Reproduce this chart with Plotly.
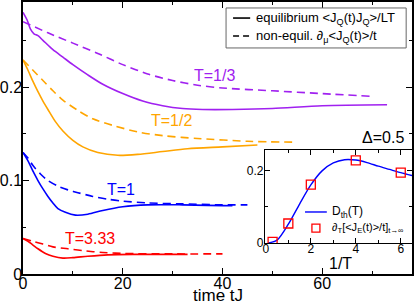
import plotly.graph_objects as go

# ---------------- data ----------------
t_p_eq = [0, 0.8, 1.5, 2.2, 3, 4, 6, 8, 10, 13, 16, 20, 24, 28, 32, 36, 42, 50, 60, 73]
y_p_eq = [0.280, 0.272, 0.262, 0.257, 0.255, 0.250, 0.240, 0.232, 0.224, 0.213, 0.203,
          0.193, 0.185, 0.180, 0.177, 0.176, 0.176, 0.177, 0.180, 0.181]
t_p_ne = [0, 5, 10, 15, 20, 25, 30, 35, 40, 50, 60, 70]
y_p_ne = [0.270, 0.258, 0.247, 0.236, 0.224, 0.214, 0.207, 0.202, 0.199, 0.196, 0.193, 0.190]

t_o_eq = [0, 1, 2, 3, 4, 5, 6.5, 8, 10, 12, 15, 19, 23, 28, 33, 40, 47]
y_o_eq = [0.229, 0.218, 0.206, 0.195, 0.185, 0.176, 0.163, 0.153, 0.143, 0.136, 0.130,
          0.127, 0.128, 0.131, 0.134, 0.136, 0.138]
t_o_ne = [0, 2, 4, 6, 8, 11, 14, 18, 23, 28, 35, 45, 55]
y_o_ne = [0.229, 0.218, 0.207, 0.196, 0.186, 0.175, 0.166, 0.159, 0.152, 0.148, 0.145, 0.142, 0.141]

t_b_eq = [0, 1, 2, 3, 4, 5, 6, 7, 8.5, 10.5, 13, 16, 20, 25, 32, 42]
y_b_eq = [0.130, 0.121, 0.110, 0.100, 0.091, 0.083, 0.076, 0.070, 0.066, 0.063, 0.064,
          0.068, 0.072, 0.074, 0.074, 0.073]
t_b_ne = [0, 1, 2, 3.5, 5, 7, 9, 11, 14, 17, 20, 25, 32, 40, 45]
y_b_ne = [0.130, 0.124, 0.116, 0.107, 0.100, 0.094, 0.090, 0.087, 0.083, 0.080, 0.078,
          0.076, 0.075, 0.074, 0.074]

t_r_eq = [0, 1, 2, 3, 4.5, 6, 8, 10, 13, 17, 22, 27, 33]
y_r_eq = [0.038, 0.035, 0.031, 0.027, 0.022, 0.019, 0.017, 0.0175, 0.019, 0.0205, 0.021, 0.021, 0.021]
t_r_ne = [0, 2, 4, 6, 9, 12, 16, 20, 30, 40]
y_r_ne = [0.038, 0.035, 0.032, 0.029, 0.027, 0.025, 0.023, 0.022, 0.0215, 0.0215]

inv_T_line = [0.1, 0.5, 1.0, 1.5, 2.0, 2.5, 3.0, 3.5, 4.0, 4.5, 5.0, 5.5, 6.0, 6.5]
D_th = [0.0, 0.008, 0.052, 0.108, 0.161, 0.200, 0.222, 0.231, 0.230, 0.223, 0.213, 0.204, 0.195, 0.187]
inv_T_pts = [0.3, 1, 2, 4, 6]
D_pts = [0.003, 0.054, 0.162, 0.229, 0.195]

x_ticks = [0, 20, 40, 60]
x_minor = [10, 30, 50, 70]
y_ticks = [0, 0.1, 0.2]
y_minor = [0.05, 0.15, 0.25]
ix_ticks = [0, 2, 4, 6]
ix_minor = [1, 3, 5]
iy_ticks = [0, 0.2]
iy_minor = [0.1]

labels = ["T=1/3", "T=1/2", "T=1", "T=3.33"]
label_x = [38.4, 29.8, 19.6, 13.4]
label_y = [0.212, 0.164, 0.090, 0.038]

PURPLE, ORANGE, BLUE, RED = "#A020F0", "#FFA500", "#0000FF", "#FF0000"
colors = [PURPLE, ORANGE, BLUE, RED]
FONT = "Liberation Sans, Arial, Helvetica, sans-serif"
DASH = "8px,5px"

fig = go.Figure()
series = [(t_p_eq, y_p_eq, t_p_ne, y_p_ne), (t_o_eq, y_o_eq, t_o_ne, y_o_ne),
          (t_b_eq, y_b_eq, t_b_ne, y_b_ne), (t_r_eq, y_r_eq, t_r_ne, y_r_ne)]
for (te, ye, tn, yn), c, lab in zip(series, colors, labels):
    fig.add_trace(go.Scatter(x=te, y=ye, mode="lines", name=lab + " equilibrium",
                             line=dict(color=c, width=1.6, shape="spline", smoothing=0.8),
                             showlegend=False, xaxis="x", yaxis="y"))
    fig.add_trace(go.Scatter(x=tn, y=yn, mode="lines", name=lab + " non-equil.",
                             line=dict(color=c, width=1.6, dash=DASH, shape="spline", smoothing=0.8),
                             showlegend=False, xaxis="x", yaxis="y"))

fig.add_trace(go.Scatter(x=inv_T_line, y=D_th, mode="lines", name="D_th(T)",
                         line=dict(color=BLUE, width=1.4, shape="spline", smoothing=0.8),
                         showlegend=False, xaxis="x2", yaxis="y2"))
fig.add_trace(go.Scatter(x=inv_T_pts, y=D_pts, mode="markers", name="dT[<JE(t)>/t]",
                         marker=dict(symbol="square-open", size=9, color=RED, line=dict(width=1.3, color=RED)),
                         showlegend=False, xaxis="x2", yaxis="y2"))

axis_common = dict(showline=True, linecolor="black", mirror="ticks", ticks="inside",
                   showgrid=False, zeroline=False, automargin=False, tickcolor="black")

fig.update_layout(
    width=415, height=306,
    margin=dict(l=23, r=3, t=2, b=32),
    paper_bgcolor="white", plot_bgcolor="white",
    font=dict(family=FONT, color="black"),
    showlegend=False,
    xaxis=dict(**axis_common, range=[0, 78], tickvals=x_ticks, ticklen=6, linewidth=1.5,
               tickfont=dict(size=16), domain=[0, 1], anchor="y", ticklabelstandoff=-6,
               minor=dict(tickvals=x_minor, ticks="inside", ticklen=3, tickcolor="black")),
    yaxis=dict(**axis_common, range=[0, 0.291], tickvals=y_ticks, ticktext=["0", "0.1", "0.2"],
               ticklen=6, linewidth=1.5, tickfont=dict(size=16), domain=[0, 1], anchor="x",
               ticklabelstandoff=-4,
               minor=dict(tickvals=y_minor, ticks="inside", ticklen=3, tickcolor="black")),
    xaxis2=dict(**axis_common, range=[-0.04, 6.5], tickvals=ix_ticks, ticklen=5, linewidth=1,
                tickfont=dict(size=12), domain=[0.622, 1.0], anchor="y2", ticklabelstandoff=-5,
                minor=dict(tickvals=ix_minor, ticks="inside", ticklen=3, tickcolor="black")),
    yaxis2=dict(**axis_common, range=[0, 0.258], tickvals=iy_ticks, ticktext=["0", "0.2"],
                ticklen=5, linewidth=1, tickfont=dict(size=12), domain=[0.114, 0.456], anchor="x2",
                ticklabelstandoff=-2,
                minor=dict(tickvals=iy_minor, ticks="inside", ticklen=3, tickcolor="black")),
)

# curve labels
for lab, lx, ly, c in zip(labels, label_x, label_y, colors):
    fig.add_annotation(x=lx, y=ly, xref="x", yref="y", text=lab, showarrow=False,
                       font=dict(size=16, color=c, family=FONT))

fig.add_annotation(x=72.2, y=0.146, xref="x", yref="y", text="Δ=0.5", showarrow=False,
                   font=dict(size=16, family=FONT))
fig.add_annotation(x=0.5, y=-0.121, xref="paper", yref="paper", text="time tJ", showarrow=False,
                   yanchor="bottom", font=dict(size=17, family=FONT))
fig.add_annotation(x=3.3, y=0.040, xref="x2", yref="paper", text="1/T", showarrow=False,
                   yanchor="middle", font=dict(size=16, family=FONT))

# main legend (drawn by hand)
fig.add_shape(type="rect", xref="paper", yref="paper", x0=0.522, x1=0.985, y0=0.831, y1=0.978,
              line=dict(color="#666666", width=1), fillcolor="white", layer="above")
fig.add_shape(type="line", xref="paper", yref="paper", x0=0.540, x1=0.584, y0=0.941, y1=0.941,
              line=dict(color="black", width=1.6), layer="above")
fig.add_shape(type="line", xref="paper", yref="paper", x0=0.540, x1=0.584, y0=0.875, y1=0.875,
              line=dict(color="black", width=1.6, dash="6px,4px"), layer="above")
fig.add_annotation(x=0.594, y=0.941, xref="paper", yref="paper", xanchor="left", yanchor="middle",
                   text="equilibrium &lt;J<sub>Q</sub>(t)J<sub>Q</sub>&gt;/LT", showarrow=False,
                   font=dict(size=13, family=FONT))
fig.add_annotation(x=0.594, y=0.875, xref="paper", yref="paper", xanchor="left", yanchor="middle",
                   text="non-equil. ∂<sub>μ</sub>&lt;J<sub>Q</sub>(t)&gt;/t", showarrow=False,
                   font=dict(size=13, family=FONT))

# inset legend (drawn by hand)
fig.add_shape(type="line", xref="paper", yref="paper", x0=0.725, x1=0.781, y0=0.228, y1=0.228,
              line=dict(color=BLUE, width=1.4), layer="above")
fig.add_shape(type="rect", xref="paper", yref="paper", xsizemode="pixel", ysizemode="pixel",
              xanchor=0.753, yanchor=0.169, x0=-4, x1=4, y0=-4, y1=4,
              line=dict(color=RED, width=1.3), layer="above")
fig.add_annotation(x=0.789, y=0.228, xref="paper", yref="paper", xanchor="left", yanchor="middle",
                   text="D<sub>th</sub>(T)", showarrow=False, font=dict(size=12, family=FONT))
fig.add_annotation(x=0.789, y=0.169, xref="paper", yref="paper", xanchor="left", yanchor="middle",
                   text="∂<sub>T</sub>[&lt;J<sub>E</sub>(t)&gt;/t]<sub>t→∞</sub>", showarrow=False,
                   font=dict(size=11, family=FONT))

fig.write_html("out.html", config={"responsive": False, "displayModeBar": False},
               post_script="document.body.style.margin='0';document.body.style.padding='0';")
